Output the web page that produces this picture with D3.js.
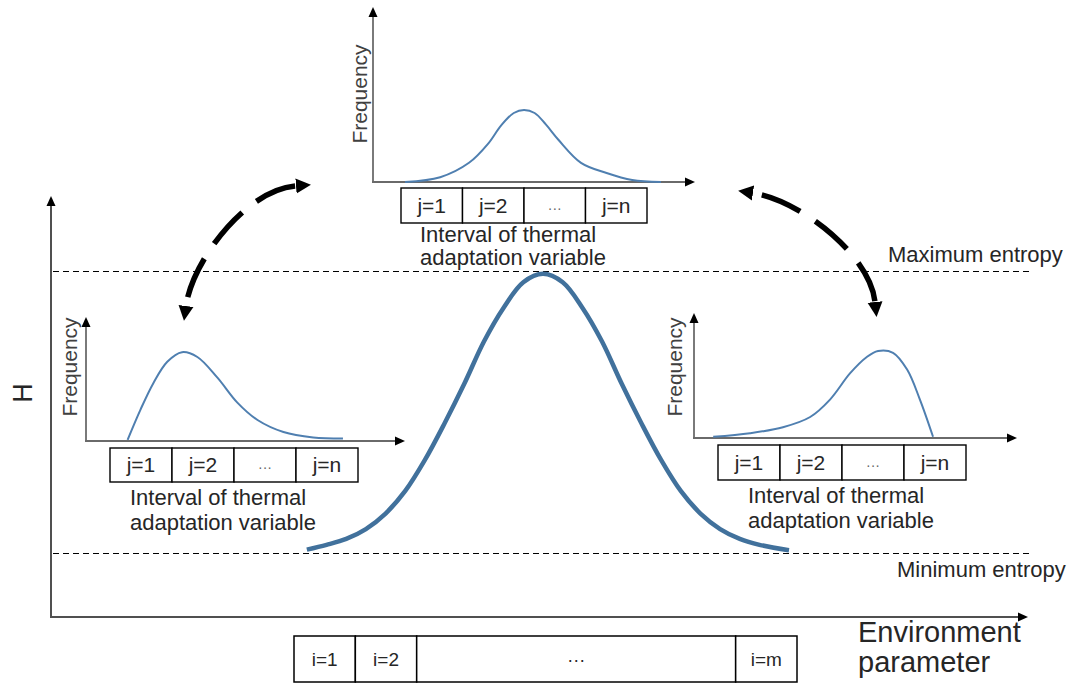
<!DOCTYPE html>
<html>
<head>
<meta charset="utf-8">
<script src="https://cdn.jsdelivr.net/npm/d3@7"></script>
<style>
  body { margin: 0; background: #fff; }
  svg { display: block; font-family: "Liberation Sans", Arial, sans-serif; }
</style>
</head>
<body>
<svg width="1073" height="684"></svg>
<script>
// main curve: entropy H (0 = minimum, 1 = maximum) against environment parameter
const envParam = [26, 28, 30, 32, 34, 36, 38, 40, 42, 44, 46, 48, 50, 52, 54, 56, 58, 60, 62, 64, 66, 68, 70, 72, 75];
const entropyH = [0.012, 0.029, 0.05, 0.085, 0.14, 0.22, 0.33, 0.46, 0.60, 0.75, 0.87, 0.96, 0.99,
    0.96, 0.87, 0.75, 0.60, 0.46, 0.33, 0.22, 0.14, 0.085, 0.05, 0.029, 0.01];
const envBins = ["i=1", "i=2", "···", "i=m"];
const envBinSpan = [1, 1, 5.2, 1];

// frequency distributions over the thermal adaptation intervals
const intervalBins = ["j=1", "j=2", "···", "j=n"];
const topFreqX = [10, 21, 30, 36, 40, 44, 47.2, 50.5, 54, 58, 65, 73, 81, 90];
const topFreqY = [0, 0.04, 0.16, 0.32, 0.47, 0.575, 0.6, 0.575, 0.48, 0.35, 0.16, 0.075, 0.017, 0];
const leftFreqX = [13, 17, 21, 25.4, 30, 34.8, 41, 47.3, 53.6, 61.7, 71, 80.3];
const leftFreqY = [0.01, 0.26, 0.48, 0.66, 0.74, 0.70, 0.53, 0.32, 0.175, 0.075, 0.03, 0.02];
const rightFreqX = [6, 17.5, 27.8, 36.3, 42.5, 48.8, 54, 57.5, 62.2, 66.6, 70.6, 74.7];
const rightFreqY = [0.01, 0.04, 0.09, 0.175, 0.32, 0.54, 0.675, 0.725, 0.71, 0.57, 0.32, 0.01];

const insets = [
    { xs: topFreqX, ys: topFreqY, x0: 373, y0: 182, axisW: 322, axisH: 175,
      box: { dx: 28, dy: 6, w: 246, h: 35 }, text: { dx: 47, dy1: 60, dy2: 83 }, freq: { dx: -6, dy: -88 } },
    { xs: leftFreqX, ys: leftFreqY, x0: 86, y0: 441, axisW: 319, axisH: 124,
      box: { dx: 24, dy: 7, w: 248, h: 34 }, text: { dx: 44, dy1: 64, dy2: 89 }, freq: { dx: -9, dy: -74 } },
    { xs: rightFreqX, ys: rightFreqY, x0: 694, y0: 438, axisW: 323, axisH: 125,
      box: { dx: 24, dy: 7, w: 248, h: 35 }, text: { dx: 54, dy1: 65, dy2: 90 }, freq: { dx: -12, dy: -71 } }
];

// dashed double arrows between the distributions
const swapArrows = [
    { from: [186, 306], c1: [192, 262], c2: [245, 190], to: [296, 186] },
    { from: [753, 193], c1: [800, 200], c2: [870, 255], to: [875, 302] }
];

const svg = d3.select("svg");
const textColor = "#262626";
const curveColor = "#41719c";

const defs = svg.append("defs");
defs.append("marker")
    .attr("id", "tri")
    .attr("viewBox", "0 -5 10 10")
    .attr("refX", 0).attr("refY", 0)
    .attr("markerUnits", "userSpaceOnUse")
    .attr("markerWidth", 10).attr("markerHeight", 10)
    .attr("orient", "auto")
    .append("path").attr("d", "M0,-4.5L10,0L0,4.5Z").attr("fill", "#000");
defs.append("marker")
    .attr("id", "bigTri")
    .attr("viewBox", "0 -8 16 16")
    .attr("refX", 0).attr("refY", 0)
    .attr("markerUnits", "userSpaceOnUse")
    .attr("markerWidth", 16).attr("markerHeight", 16)
    .attr("orient", "auto-start-reverse")
    .append("path").attr("d", "M0,-7.5L15,0L0,7.5Z").attr("fill", "#000");

// ---- main chart ----
const x = d3.scaleLinear().domain([0, 100]).range([51, 1035]);
const h = d3.scaleLinear().domain([0, 1]).range([553, 271]);

// entropy reference lines
[1, 0].forEach(v => {
    const y = Math.round(h(v)) + 0.5;
    svg.append("line")
        .attr("x1", 53).attr("x2", 1030)
        .attr("y1", y).attr("y2", y)
        .attr("stroke", "#000")
        .attr("stroke-width", 1.2)
        .attr("stroke-dasharray", "6,4");
});
svg.append("text")
    .attr("x", 888).attr("y", h(1) - 9)
    .attr("font-size", 22).attr("fill", textColor)
    .text("Maximum entropy");
svg.append("text")
    .attr("x", 897).attr("y", h(0) + 24)
    .attr("font-size", 22).attr("fill", textColor)
    .text("Minimum entropy");

// axes
svg.append("line")
    .attr("x1", 51).attr("y1", 618).attr("x2", 51).attr("y2", 206)
    .attr("stroke", "#505050").attr("stroke-width", 2)
    .attr("marker-end", "url(#tri)");
svg.append("line")
    .attr("x1", 50).attr("y1", 617).attr("x2", 1018).attr("y2", 617)
    .attr("stroke", "#505050").attr("stroke-width", 2)
    .attr("marker-end", "url(#tri)");

svg.append("text")
    .attr("transform", "translate(32,393) rotate(-90)")
    .attr("text-anchor", "middle")
    .attr("font-size", 27).attr("fill", textColor)
    .text("H");
svg.append("text")
    .attr("x", 858).attr("y", 642)
    .attr("font-size", 29).attr("fill", textColor)
    .text("Environment");
svg.append("text")
    .attr("x", 858).attr("y", 672)
    .attr("font-size", 29).attr("fill", textColor)
    .text("parameter");

const mainLine = d3.line()
    .x(d => x(d[0]))
    .y(d => h(d[1]))
    .curve(d3.curveCatmullRom.alpha(0.5));
svg.append("path")
    .datum(d3.zip(envParam, entropyH))
    .attr("d", mainLine)
    .attr("fill", "none")
    .attr("stroke", curveColor)
    .attr("stroke-width", 4.5);

// environment parameter intervals
const spanTotal = d3.sum(envBinSpan);
const envUnit = d3.scaleLinear().domain([0, spanTotal]).range([294, 797]);
const envCells = envBins.map((b, i) => ({
    label: b,
    x0: envUnit(d3.sum(envBinSpan.slice(0, i))),
    x1: envUnit(d3.sum(envBinSpan.slice(0, i + 1)))
}));
const envG = svg.append("g");
envG.selectAll("rect")
    .data(envCells)
    .enter().append("rect")
    .attr("x", d => d.x0).attr("y", 636)
    .attr("width", d => d.x1 - d.x0).attr("height", 46)
    .attr("fill", "#fff").attr("stroke", "#000").attr("stroke-width", 1.5);
envG.selectAll("text")
    .data(envCells)
    .enter().append("text")
    .attr("x", d => (d.x0 + d.x1) / 2).attr("y", 666)
    .attr("text-anchor", "middle")
    .attr("font-size", d => d.label === "···" ? 18 : 19)
    .attr("fill", textColor)
    .text(d => d.label);

// ---- insets ----
insets.forEach(inset => {
    const g = svg.append("g").attr("transform", `translate(${inset.x0},${inset.y0})`);
    const ix = d3.scaleLinear().domain([0, 100]).range([0, 320]);
    const iy = d3.scaleLinear().domain([0, 1]).range([0, -120]);

    g.append("line")
        .attr("x1", 0).attr("y1", 0).attr("x2", 0).attr("y2", -inset.axisH + 10)
        .attr("stroke", "#7a7a7a").attr("stroke-width", 2)
        .attr("marker-end", "url(#tri)");
    g.append("line")
        .attr("x1", -1).attr("y1", 0).attr("x2", inset.axisW - 10).attr("y2", 0)
        .attr("stroke", "#6a6a6a").attr("stroke-width", 2)
        .attr("marker-end", "url(#tri)");

    g.append("path")
        .datum(d3.zip(inset.xs, inset.ys))
        .attr("d", d3.line().x(d => ix(d[0])).y(d => iy(d[1])).curve(d3.curveCatmullRom.alpha(0.5)))
        .attr("fill", "none")
        .attr("stroke", "#4f7fb0")
        .attr("stroke-width", 2);

    g.append("text")
        .attr("transform", `translate(${inset.freq.dx},${inset.freq.dy}) rotate(-90)`)
        .attr("text-anchor", "middle")
        .attr("font-size", 21).attr("fill", "#404040")
        .text("Frequency");

    const band = d3.scaleBand()
        .domain(intervalBins)
        .range([inset.box.dx, inset.box.dx + inset.box.w]);
    g.selectAll("rect.bin")
        .data(intervalBins)
        .enter().append("rect")
        .attr("class", "bin")
        .attr("x", d => band(d)).attr("y", inset.box.dy)
        .attr("width", band.bandwidth()).attr("height", inset.box.h)
        .attr("fill", "#fff").attr("stroke", "#000").attr("stroke-width", 1.4);
    g.selectAll("text.bin")
        .data(intervalBins)
        .enter().append("text")
        .attr("class", "bin")
        .attr("x", d => band(d) + band.bandwidth() / 2)
        .attr("y", inset.box.dy + inset.box.h / 2 + 7)
        .attr("text-anchor", "middle")
        .attr("font-size", d => d === "···" ? 14 : 21)
        .attr("fill", d => d === "···" ? "#666" : textColor)
        .text(d => d);

    g.append("text")
        .attr("x", inset.text.dx).attr("y", inset.text.dy1)
        .attr("font-size", 22).attr("fill", textColor)
        .text("Interval of thermal");
    g.append("text")
        .attr("x", inset.text.dx).attr("y", inset.text.dy2)
        .attr("font-size", 22).attr("fill", textColor)
        .text("adaptation variable");
});

// ---- swap arrows ----
swapArrows.forEach(a => {
    const p = d3.path();
    p.moveTo(a.from[0], a.from[1]);
    p.bezierCurveTo(a.c1[0], a.c1[1], a.c2[0], a.c2[1], a.to[0], a.to[1]);
    svg.append("path")
        .attr("d", p.toString())
        .attr("fill", "none")
        .attr("stroke", "#000")
        .attr("stroke-width", 5.5)
        .attr("stroke-dasharray", "42,18")
        .attr("stroke-dashoffset", 51)
        .attr("marker-start", "url(#bigTri)")
        .attr("marker-end", "url(#bigTri)");
});
</script>
</body>
</html>
